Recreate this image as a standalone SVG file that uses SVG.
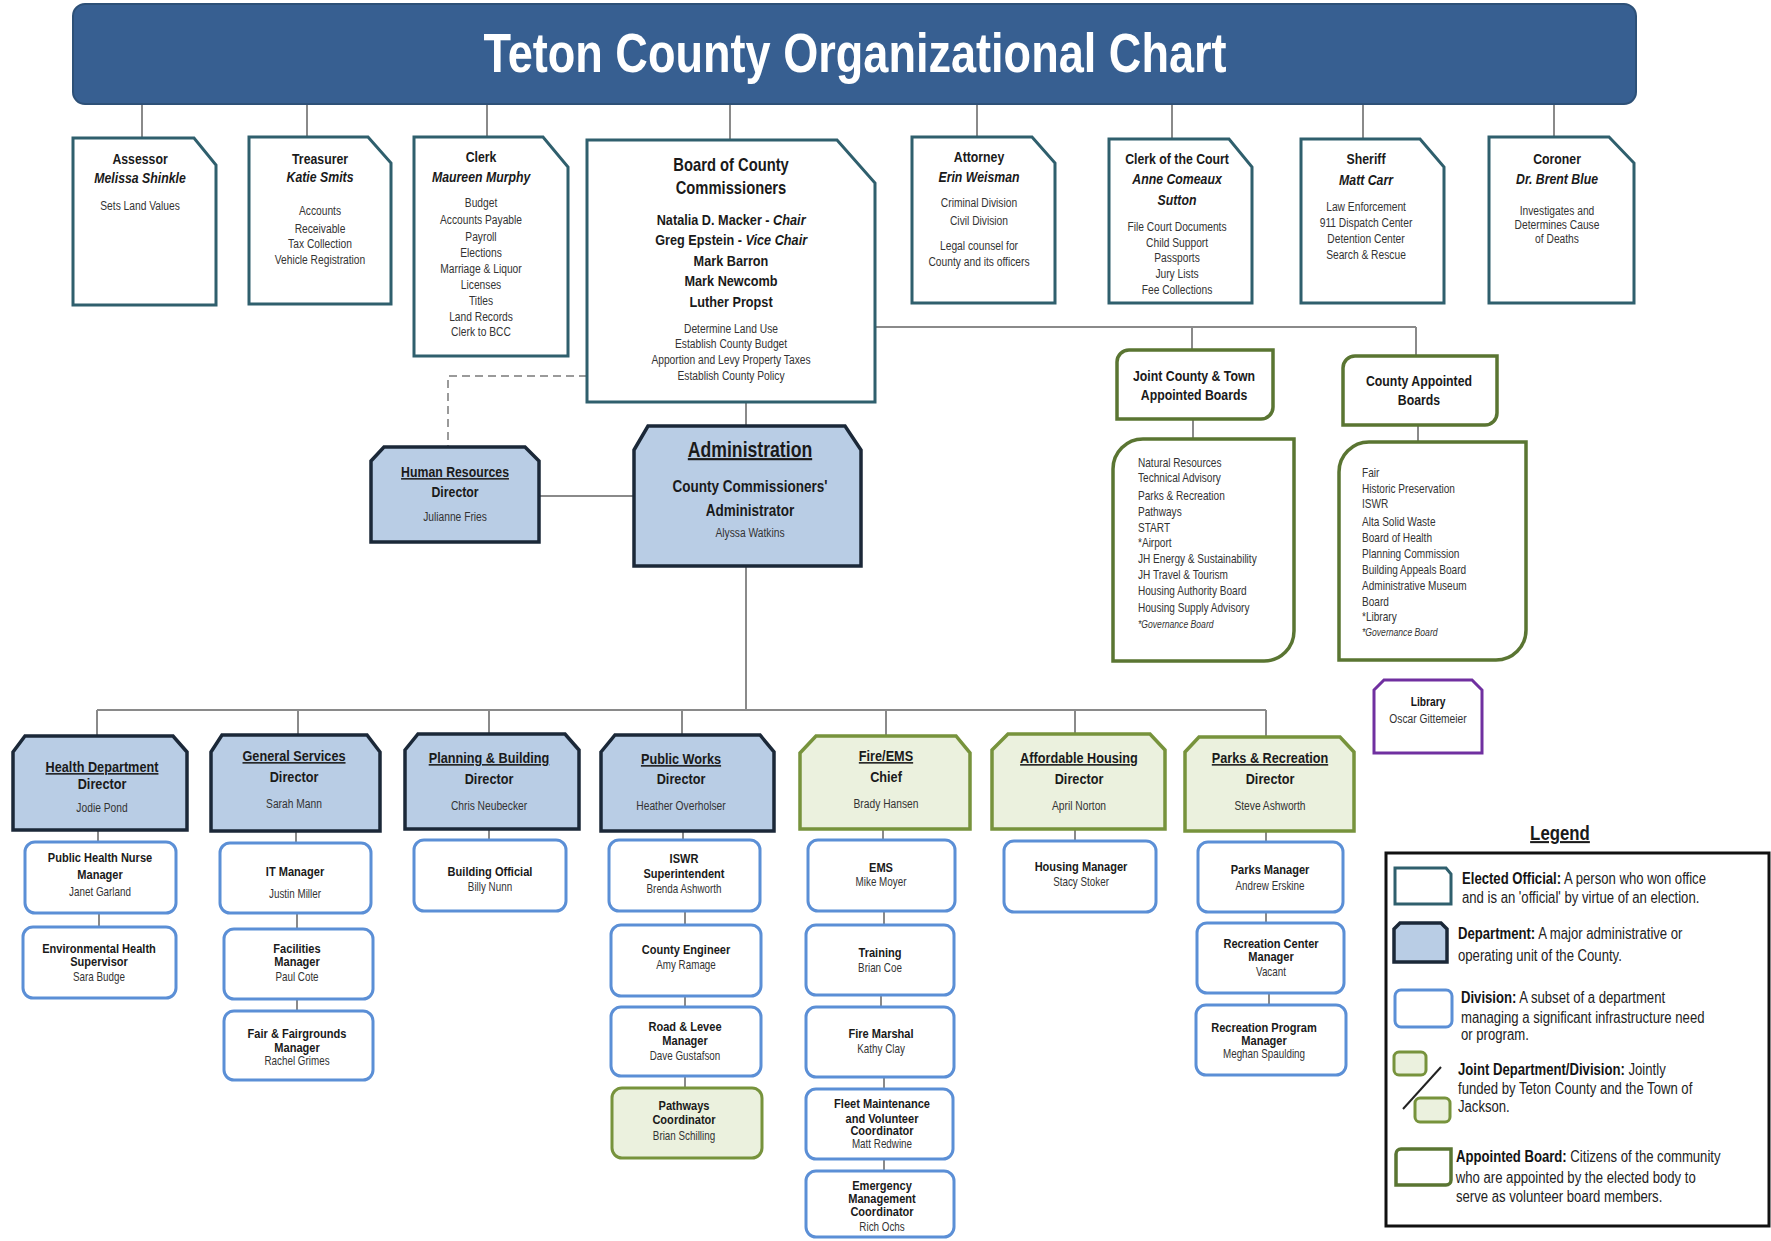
<svg xmlns="http://www.w3.org/2000/svg" width="1771" height="1241" viewBox="0 0 1771 1241">
<style>
text { font-family: "Liberation Sans", Arial, sans-serif; fill: #1a1a1a;
  transform-box: fill-box; transform-origin: 50% 50%; transform: scaleX(0.82); }
.ls, .gv, .lg { transform-origin: 0% 50%; }
.c { text-anchor: middle; }
.ttl { font-size: 55px; font-weight: 700; fill: #ffffff; }
.h { font-size: 15px; font-weight: 700; }
.hi { font-size: 15px; font-weight: 700; font-style: italic; }
.s { font-size: 12.5px; fill: #333333; }
.bt { font-size: 18px; font-weight: 700; }
.bn { font-size: 15.5px; font-weight: 700; }
.dt { font-size: 15.5px; font-weight: 700; }
.at { font-size: 21.5px; font-weight: 700; }
.am { font-size: 16.5px; font-weight: 700; }
.u { text-decoration: underline; }
.vt { font-size: 13.5px; font-weight: 700; }
.vs { font-size: 12px; fill: #333333; }
.ls { font-size: 12.3px; fill: #333333; }
.gv { font-size: 10.5px; font-style: italic; fill: #333333; }
.lg { font-size: 16px; fill: #222222; }
.lgh { font-size: 20.5px; font-weight: 700; text-decoration: underline; }
.b { font-weight: 700; fill: #141414; }
.ln { fill: none; stroke: #8a8a8a; stroke-width: 2; }
.dash { fill: none; stroke: #9a9a9a; stroke-width: 2; stroke-dasharray: 8 5; }
.el path { fill: #ffffff; stroke: #2f5f6d; stroke-width: 3; }
.dp path { fill: #b9cde5; stroke: #1b2838; stroke-width: 3.5; }
.jt path { fill: #ebf1de; stroke: #77933c; stroke-width: 3.5; }
.dv rect { fill: #ffffff; stroke: #5b8fd6; stroke-width: 3; }
.jd rect { fill: #ebf1de; stroke: #77933c; stroke-width: 3; }
.bd path { fill: #ffffff; stroke: #5a7532; stroke-width: 3.5; }
.lib path { fill: #ffffff; stroke: #7030a0; stroke-width: 3; }
</style>

<!-- connectors -->
<g id="connectors">
  <path class="ln" d="M142,104V138 M307,104V137 M487,104V137 M730,104V140 M977,104V137 M1172,104V139 M1363,104V139 M1554,104V137"/>
  <path class="ln" d="M875,327H1416 M1192,327V350 M1416,327V356 M1193,419V439 M1418,425V442"/>
  <path class="ln" d="M746,402V426 M539,496H634 M746,566V710 M97,710H1266"/>
  <path class="ln" d="M97,710V736 M298,710V735 M489,710V734 M682,710V735 M886,710V736 M1075,710V734 M1266,710V737"/>
  <path class="ln" d="M98,830V842 M99,913V927"/>
  <path class="ln" d="M296,831V843 M297,913V929 M297,999V1011"/>
  <path class="ln" d="M489,829V840"/>
  <path class="ln" d="M683,831V840 M685,911V925 M685,996V1007 M685,1076V1088"/>
  <path class="ln" d="M883,829V840 M884,911V925 M881,995V1007 M884,1077V1089 M884,1159V1171"/>
  <path class="ln" d="M1075,829V841"/>
  <path class="ln" d="M1266,831V842 M1266,912V923 M1269,993V1005"/>
  <path class="dash" d="M587,376H448V447"/>
</g>

<!-- title banner -->
<g id="title">
  <rect x="73" y="4" width="1563" height="100" rx="12" fill="#375f91" stroke="#2d5077" stroke-width="2"/>
  <text class="c ttl" x="855" y="72">Teton County Organizational Chart</text>
</g>

<!-- elected officials -->
<g id="assessor" class="el">
  <path d="M73,138H194L216,165V305H73Z"/>
  <text class="c h" x="140" y="164">Assessor</text>
  <text class="c hi" x="140" y="183">Melissa Shinkle</text>
  <text class="c s" x="140" y="210">Sets Land Values</text>
</g>
<g id="treasurer" class="el">
  <path d="M249,137H368L391,163V304H249Z"/>
  <text class="c h" x="320" y="164">Treasurer</text>
  <text class="c hi" x="320" y="182">Katie Smits</text>
  <text class="c s" x="320" y="215">Accounts</text>
  <text class="c s" x="320" y="233">Receivable</text>
  <text class="c s" x="320" y="248">Tax Collection</text>
  <text class="c s" x="320" y="264">Vehicle Registration</text>
</g>
<g id="clerk" class="el">
  <path d="M414,137H543L568,167V356H414Z"/>
  <text class="c h" x="481" y="162">Clerk</text>
  <text class="c hi" x="481" y="182">Maureen Murphy</text>
  <text class="c s" x="481" y="207">Budget</text>
  <text class="c s" x="481" y="224">Accounts Payable</text>
  <text class="c s" x="481" y="241">Payroll</text>
  <text class="c s" x="481" y="257">Elections</text>
  <text class="c s" x="481" y="273">Marriage  &amp; Liquor</text>
  <text class="c s" x="481" y="289">Licenses</text>
  <text class="c s" x="481" y="305">Titles</text>
  <text class="c s" x="481" y="321">Land Records</text>
  <text class="c s" x="481" y="336">Clerk to BCC</text>
</g>
<g id="board" class="el">
  <path d="M587,140H837L875,183V402H587Z"/>
  <text class="c bt" x="731" y="171">Board of County</text>
  <text class="c bt" x="731" y="194">Commissioners</text>
  <text class="c bn" x="731" y="225">Natalia D. Macker - <tspan font-style="italic">Chair</tspan></text>
  <text class="c bn" x="731" y="245">Greg Epstein - <tspan font-style="italic">Vice Chair</tspan></text>
  <text class="c bn" x="731" y="266">Mark Barron</text>
  <text class="c bn" x="731" y="286">Mark Newcomb</text>
  <text class="c bn" x="731" y="307">Luther Propst</text>
  <text class="c s" x="731" y="333">Determine Land Use</text>
  <text class="c s" x="731" y="348">Establish County Budget</text>
  <text class="c s" x="731" y="364">Apportion and Levy Property Taxes</text>
  <text class="c s" x="731" y="380">Establish County Policy</text>
</g>
<g id="attorney" class="el">
  <path d="M912,137H1032L1055,163V303H912Z"/>
  <text class="c h" x="979" y="162">Attorney</text>
  <text class="c hi" x="979" y="182">Erin Weisman</text>
  <text class="c s" x="979" y="207">Criminal Division</text>
  <text class="c s" x="979" y="225">Civil Division</text>
  <text class="c s" x="979" y="250">Legal counsel for</text>
  <text class="c s" x="979" y="266">County and its officers</text>
</g>
<g id="clerk-of-court" class="el">
  <path d="M1109,139H1229L1252,167V303H1109Z"/>
  <text class="c h" x="1177" y="164">Clerk of the Court</text>
  <text class="c hi" x="1177" y="184">Anne Comeaux</text>
  <text class="c hi" x="1177" y="205">Sutton</text>
  <text class="c s" x="1177" y="231">File Court Documents</text>
  <text class="c s" x="1177" y="247">Child Support</text>
  <text class="c s" x="1177" y="262">Passports</text>
  <text class="c s" x="1177" y="278">Jury Lists</text>
  <text class="c s" x="1177" y="294">Fee Collections</text>
</g>
<g id="sheriff" class="el">
  <path d="M1301,139H1420L1444,167V303H1301Z"/>
  <text class="c h" x="1366" y="164">Sheriff</text>
  <text class="c hi" x="1366" y="185">Matt Carr</text>
  <text class="c s" x="1366" y="211">Law Enforcement</text>
  <text class="c s" x="1366" y="227">911 Dispatch Center</text>
  <text class="c s" x="1366" y="243">Detention Center</text>
  <text class="c s" x="1366" y="259">Search &amp; Rescue</text>
</g>
<g id="coroner" class="el">
  <path d="M1489,137H1609L1634,163V303H1489Z"/>
  <text class="c h" x="1557" y="164">Coroner</text>
  <text class="c hi" x="1557" y="184">Dr. Brent Blue</text>
  <text class="c s" x="1557" y="215">Investigates  and</text>
  <text class="c s" x="1557" y="229">Determines Cause</text>
  <text class="c s" x="1557" y="243">of Deaths</text>
</g>

<!-- appointed boards -->
<g id="joint-boards" class="bd">
  <path d="M1129,350H1273V407A12,12 0 0 1 1261,419H1117V362A12,12 0 0 1 1129,350Z"/>
  <text class="c h" x="1194" y="381">Joint County &amp; Town</text>
  <text class="c h" x="1194" y="400">Appointed Boards</text>
</g>
<g id="joint-board-list" class="bd">
  <path d="M1143,439H1294V631A30,30 0 0 1 1264,661H1113V469A30,30 0 0 1 1143,439Z"/>
  <text class="ls" x="1138" y="467">Natural Resources</text>
  <text class="ls" x="1138" y="482">Technical Advisory</text>
  <text class="ls" x="1138" y="500">Parks &amp; Recreation</text>
  <text class="ls" x="1138" y="516">Pathways</text>
  <text class="ls" x="1138" y="532">START</text>
  <text class="ls" x="1138" y="547">*Airport</text>
  <text class="ls" x="1138" y="563">JH Energy &amp; Sustainability</text>
  <text class="ls" x="1138" y="579">JH Travel &amp; Tourism</text>
  <text class="ls" x="1138" y="595">Housing Authority Board</text>
  <text class="ls" x="1138" y="612">Housing Supply Advisory</text>
  <text class="gv" x="1138" y="628">*Governance Board</text>
</g>
<g id="county-boards" class="bd">
  <path d="M1355,356H1497V413A12,12 0 0 1 1485,425H1343V368A12,12 0 0 1 1355,356Z"/>
  <text class="c h" x="1419" y="386">County Appointed</text>
  <text class="c h" x="1419" y="405">Boards</text>
</g>
<g id="county-board-list" class="bd">
  <path d="M1369,442H1526V630A30,30 0 0 1 1496,660H1339V472A30,30 0 0 1 1369,442Z"/>
  <text class="ls" x="1362" y="477">Fair</text>
  <text class="ls" x="1362" y="493">Historic Preservation</text>
  <text class="ls" x="1362" y="508">ISWR</text>
  <text class="ls" x="1362" y="526">Alta Solid Waste</text>
  <text class="ls" x="1362" y="542">Board of Health</text>
  <text class="ls" x="1362" y="558">Planning Commission</text>
  <text class="ls" x="1362" y="574">Building Appeals Board</text>
  <text class="ls" x="1362" y="590">Administrative Museum</text>
  <text class="ls" x="1362" y="606">Board</text>
  <text class="ls" x="1362" y="621">*Library</text>
  <text class="gv" x="1362" y="636">*Governance Board</text>
</g>
<g id="library" class="lib">
  <path d="M1374,690L1384,680H1472L1482,690V753H1374Z"/>
  <text class="c b" x="1428" y="706" font-size="12.5">Library</text>
  <text class="c s" x="1428" y="723">Oscar Gittemeier</text>
</g>

<!-- administration -->
<g id="human-resources" class="dp">
  <path d="M371,461L384,447H525L539,461V542H371Z"/>
  <text class="c h u" x="455" y="477">Human Resources</text>
  <text class="c h" x="455" y="497">Director</text>
  <text class="c s" x="455" y="521">Julianne Fries</text>
</g>
<g id="administration" class="dp">
  <path d="M634,450L648,426H845L861,450V566H634Z"/>
  <text class="c at u" x="750" y="457">Administration</text>
  <text class="c am" x="750" y="492">County Commissioners'</text>
  <text class="c am" x="750" y="516">Administrator</text>
  <text class="c s" x="750" y="537">Alyssa Watkins</text>
</g>

<!-- departments -->
<g id="health" class="dp">
  <path d="M13,752L25,736H173L187,752V830H13Z"/>
  <text class="c dt u" x="102" y="772">Health Department</text>
  <text class="c dt" x="102" y="789">Director</text>
  <text class="c s" x="102" y="812">Jodie Pond</text>
</g>
<g id="general-services" class="dp">
  <path d="M211,752L222,735H367L380,752V831H211Z"/>
  <text class="c dt u" x="294" y="761">General Services</text>
  <text class="c dt" x="294" y="782">Director</text>
  <text class="c s" x="294" y="808">Sarah Mann</text>
</g>
<g id="planning" class="dp">
  <path d="M405,750L418,734H565L579,750V829H405Z"/>
  <text class="c dt u" x="489" y="763">Planning &amp; Building</text>
  <text class="c dt" x="489" y="784">Director</text>
  <text class="c s" x="489" y="810">Chris Neubecker</text>
</g>
<g id="public-works" class="dp">
  <path d="M601,752L615,735H760L774,752V831H601Z"/>
  <text class="c dt u" x="681" y="764">Public Works</text>
  <text class="c dt" x="681" y="784">Director</text>
  <text class="c s" x="681" y="810">Heather Overholser</text>
</g>
<g id="fire-ems" class="jt">
  <path d="M800,753L816,736H956L970,753V829H800Z"/>
  <text class="c dt u" x="886" y="761">Fire/EMS</text>
  <text class="c dt" x="886" y="782">Chief</text>
  <text class="c s" x="886" y="808">Brady Hansen</text>
</g>
<g id="affordable-housing" class="jt">
  <path d="M992,750L1008,734H1150L1165,750V829H992Z"/>
  <text class="c dt u" x="1079" y="763">Affordable Housing</text>
  <text class="c dt" x="1079" y="784">Director</text>
  <text class="c s" x="1079" y="810">April Norton</text>
</g>
<g id="parks-recreation" class="jt">
  <path d="M1185,752L1199,737H1340L1354,752V831H1185Z"/>
  <text class="c dt u" x="1270" y="763">Parks &amp; Recreation</text>
  <text class="c dt" x="1270" y="784">Director</text>
  <text class="c s" x="1270" y="810">Steve Ashworth</text>
</g>

<!-- divisions -->
<g id="nurse-manager" class="dv">
  <rect x="25" y="842" width="151" height="71" rx="10"/>
  <text class="c vt" x="100" y="862">Public Health Nurse</text>
  <text class="c vt" x="100" y="879">Manager</text>
  <text class="c vs" x="100" y="896">Janet Garland</text>
</g>
<g id="env-health" class="dv">
  <rect x="23" y="927" width="153" height="71" rx="10"/>
  <text class="c vt" x="99" y="953">Environmental Health</text>
  <text class="c vt" x="99" y="966">Supervisor</text>
  <text class="c vs" x="99" y="981">Sara Budge</text>
</g>
<g id="it-manager" class="dv">
  <rect x="220" y="843" width="151" height="70" rx="10"/>
  <text class="c vt" x="295" y="876">IT Manager</text>
  <text class="c vs" x="295" y="898">Justin Miller</text>
</g>
<g id="facilities" class="dv">
  <rect x="224" y="929" width="149" height="70" rx="10"/>
  <text class="c vt" x="297" y="953">Facilities</text>
  <text class="c vt" x="297" y="966">Manager</text>
  <text class="c vs" x="297" y="981">Paul Cote</text>
</g>
<g id="fairgrounds" class="dv">
  <rect x="224" y="1011" width="149" height="69" rx="10"/>
  <text class="c vt" x="297" y="1038">Fair &amp; Fairgrounds</text>
  <text class="c vt" x="297" y="1052">Manager</text>
  <text class="c vs" x="297" y="1065">Rachel Grimes</text>
</g>
<g id="building-official" class="dv">
  <rect x="414" y="840" width="152" height="71" rx="10"/>
  <text class="c vt" x="490" y="876">Building Official</text>
  <text class="c vs" x="490" y="891">Billy Nunn</text>
</g>
<g id="iswr" class="dv">
  <rect x="609" y="840" width="151" height="71" rx="10"/>
  <text class="c vt" x="684" y="863">ISWR</text>
  <text class="c vt" x="684" y="878">Superintendent</text>
  <text class="c vs" x="684" y="893">Brenda Ashworth</text>
</g>
<g id="county-engineer" class="dv">
  <rect x="611" y="925" width="150" height="71" rx="10"/>
  <text class="c vt" x="686" y="954">County Engineer</text>
  <text class="c vs" x="686" y="969">Amy Ramage</text>
</g>
<g id="road-levee" class="dv">
  <rect x="611" y="1007" width="150" height="69" rx="10"/>
  <text class="c vt" x="685" y="1031">Road &amp; Levee</text>
  <text class="c vt" x="685" y="1045">Manager</text>
  <text class="c vs" x="685" y="1060">Dave Gustafson</text>
</g>
<g id="pathways" class="jd">
  <rect x="612" y="1088" width="150" height="70" rx="10"/>
  <text class="c vt" x="684" y="1110">Pathways</text>
  <text class="c vt" x="684" y="1124">Coordinator</text>
  <text class="c vs" x="684" y="1140">Brian Schilling</text>
</g>
<g id="ems" class="dv">
  <rect x="808" y="840" width="147" height="71" rx="10"/>
  <text class="c vt" x="881" y="872">EMS</text>
  <text class="c vs" x="881" y="886">Mike Moyer</text>
</g>
<g id="training" class="dv">
  <rect x="806" y="925" width="148" height="70" rx="10"/>
  <text class="c vt" x="880" y="957">Training</text>
  <text class="c vs" x="880" y="972">Brian Coe</text>
</g>
<g id="fire-marshal" class="dv">
  <rect x="806" y="1007" width="148" height="70" rx="10"/>
  <text class="c vt" x="881" y="1038">Fire Marshal</text>
  <text class="c vs" x="881" y="1053">Kathy Clay</text>
</g>
<g id="fleet" class="dv">
  <rect x="806" y="1089" width="147" height="70" rx="10"/>
  <text class="c vt" x="882" y="1108">Fleet Maintenance</text>
  <text class="c vt" x="882" y="1123">and Volunteer</text>
  <text class="c vt" x="882" y="1135">Coordinator</text>
  <text class="c vs" x="882" y="1148">Matt Redwine</text>
</g>
<g id="emergency" class="dv">
  <rect x="806" y="1171" width="148" height="66" rx="10"/>
  <text class="c vt" x="882" y="1190">Emergency</text>
  <text class="c vt" x="882" y="1203">Management</text>
  <text class="c vt" x="882" y="1216">Coordinator</text>
  <text class="c vs" x="882" y="1231">Rich Ochs</text>
</g>
<g id="housing-manager" class="dv">
  <rect x="1004" y="841" width="152" height="71" rx="10"/>
  <text class="c vt" x="1081" y="871">Housing Manager</text>
  <text class="c vs" x="1081" y="886">Stacy Stoker</text>
</g>
<g id="parks-manager" class="dv">
  <rect x="1198" y="842" width="145" height="70" rx="10"/>
  <text class="c vt" x="1270" y="874">Parks Manager</text>
  <text class="c vs" x="1270" y="890">Andrew Erskine</text>
</g>
<g id="rec-center" class="dv">
  <rect x="1197" y="923" width="147" height="70" rx="10"/>
  <text class="c vt" x="1271" y="948">Recreation Center</text>
  <text class="c vt" x="1271" y="961">Manager</text>
  <text class="c vs" x="1271" y="976">Vacant</text>
</g>
<g id="rec-program" class="dv">
  <rect x="1196" y="1005" width="150" height="70" rx="10"/>
  <text class="c vt" x="1264" y="1032">Recreation Program</text>
  <text class="c vt" x="1264" y="1045">Manager</text>
  <text class="c vs" x="1264" y="1058">Meghan Spaulding</text>
</g>

<!-- legend -->
<g id="legend">
  <text class="c lgh" x="1560" y="840">Legend</text>
  <rect x="1386" y="853" width="383" height="373" fill="#ffffff" stroke="#111111" stroke-width="3"/>
  <g class="el"><path d="M1395,868H1446L1451,874V904H1395Z"/></g>
  <text class="lg" x="1462" y="884"><tspan class="b">Elected Official:</tspan> A person who won office</text>
  <text class="lg" x="1462" y="903">and is an 'official' by virtue of an election.</text>
  <g class="dp"><path d="M1394,929L1400,923H1441L1447,929V962H1394Z"/></g>
  <text class="lg" x="1458" y="939"><tspan class="b">Department:</tspan> A major administrative or</text>
  <text class="lg" x="1458" y="961">operating unit of the County.</text>
  <g class="dv"><rect x="1395" y="990" width="57" height="37" rx="6"/></g>
  <text class="lg" x="1461" y="1003"><tspan class="b">Division:</tspan> A subset of a department</text>
  <text class="lg" x="1461" y="1023">managing a significant infrastructure need</text>
  <text class="lg" x="1461" y="1040">or program.</text>
  <g class="jd">
    <rect x="1394" y="1052" width="32" height="23" rx="5"/>
    <rect x="1415" y="1098" width="35" height="24" rx="5"/>
  </g>
  <path d="M1441,1067L1403,1109" stroke="#222222" stroke-width="2" fill="none"/>
  <text class="lg" x="1458" y="1075"><tspan class="b">Joint Department/Division:</tspan> Jointly</text>
  <text class="lg" x="1458" y="1094">funded by Teton County and the Town of</text>
  <text class="lg" x="1458" y="1112">Jackson.</text>
  <g class="bd"><path d="M1401,1149H1451V1180A5,5 0 0 1 1446,1185H1396V1154A5,5 0 0 1 1401,1149Z"/></g>
  <text class="lg" x="1456" y="1162"><tspan class="b">Appointed Board:</tspan> Citizens of the community</text>
  <text class="lg" x="1456" y="1183">who are appointed by the elected body to</text>
  <text class="lg" x="1456" y="1202">serve as volunteer board members.</text>
</g>
</svg>
